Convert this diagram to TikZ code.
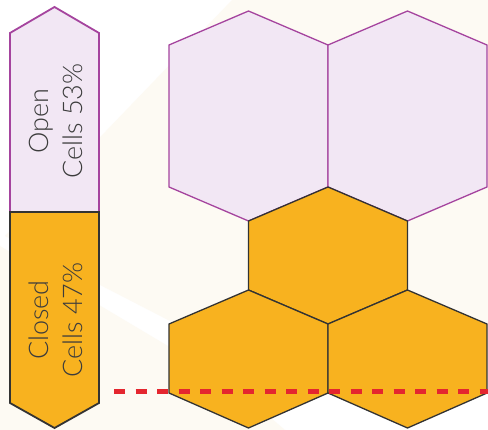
\documentclass[tikz,border=0pt]{standalone}
\usepackage{fontspec}
\setmainfont{Lato Light}
\definecolor{cream}{HTML}{FDFAF3}
\definecolor{lav}{HTML}{F2E7F4}
\definecolor{purp}{HTML}{A5449E}
\definecolor{gold}{HTML}{F8B21F}
\definecolor{dk}{HTML}{333333}
\definecolor{dashred}{HTML}{E4262F}
\definecolor{txt}{HTML}{3C3C3C}
\tikzset{
  opencell/.style={fill=lav, draw=purp, line width=1.3pt, line join=miter},
  closedcell/.style={fill=gold, draw=dk, line width=1.3pt, line join=miter},
  openbar/.style={fill=lav, draw=purp, line width=1.8pt, line join=miter},
  closedbar/.style={fill=gold, draw=dk, line width=1.8pt, line join=miter},
  barlabel/.style={rotate=90, align=center, text=txt, font=\fontsize{27}{34}\selectfont, inner sep=0pt},
  baseline/.style={dashred, line width=5pt, dash pattern=on 11pt off 10.5pt}
}
\begin{document}
\begin{tikzpicture}[x=1pt,y=-1pt]
\useasboundingbox (0,0) rectangle (488,430);
% background
\fill[white] (0,0) rectangle (488,430);
\fill[cream] (5,236) -- (232,0) -- (488,0) -- (488,360) -- (250,360) -- (170,321) -- cycle;
\fill[cream] (0,246) -- (168,346) -- (250,400) -- (285,430) -- (0,430) -- cycle;
% open cells (top)
\draw[opencell] (248.5,11) -- (328,45) -- (328,187) -- (248.5,221) -- (169,187) -- (169,45) -- cycle;
\draw[opencell] (407.5,11) -- (487,45) -- (487,187) -- (407.5,221) -- (328,187) -- (328,45) -- cycle;
% closed cells
\draw[closedcell] (328,187) -- (407.5,221) -- (407.5,290) -- (328,324) -- (248.5,290) -- (248.5,221) -- cycle;
\draw[closedcell] (248.5,290) -- (328,324) -- (328,393) -- (248.5,428) -- (169,393) -- (169,324) -- cycle;
\draw[closedcell] (407.5,290) -- (487,324) -- (487,393) -- (407.5,428) -- (328,393) -- (328,324) -- cycle;
% bar
\draw[openbar] (10,212) -- (10,33) -- (54.5,7) -- (99,33) -- (99,212) -- cycle;
\draw[closedbar] (10,212) -- (99,212) -- (99,403) -- (54.5,428) -- (10,403) -- cycle;
\node[barlabel] (opentxt) at (56,121) {Open\\Cells 53\%};
\node[barlabel] (closedtxt) at (56,320) {Closed\\Cells 47\%};
% dashed line
\coordinate (dashstart) at (114,392);
\coordinate (dashend) at (488,392);
\draw[baseline] (dashstart) -- (dashend);
\end{tikzpicture}
\end{document}
